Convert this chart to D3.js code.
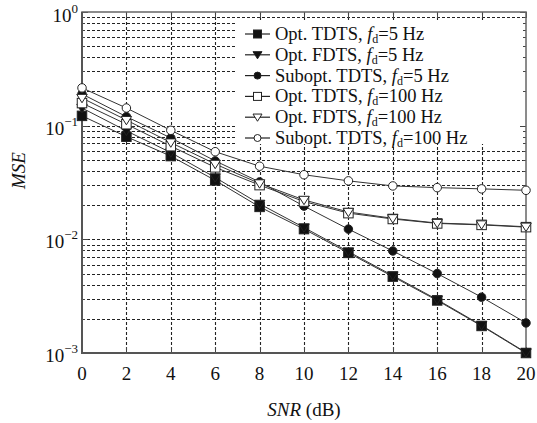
<!DOCTYPE html>
<html>
<head>
<script src="https://cdn.jsdelivr.net/npm/d3@7/dist/d3.min.js"></script>
<style>
  body { margin: 0; background: #fff; }
  text { font-family: "Liberation Serif", "DejaVu Serif", serif; fill: #111; }
</style>
</head>
<body>
<script>
// SNR values (dB)
var snr = [0, 2, 4, 6, 8, 10, 12, 14, 16, 18, 20];

// MSE
var optTdts5    = [0.122, 0.080, 0.054, 0.033, 0.0193, 0.0123, 0.0076, 0.0047, 0.0029, 0.00173, 0.00100];
var optFdts5    = [0.143, 0.090, 0.058, 0.035, 0.0205, 0.0127, 0.0078, 0.0048, 0.00295, 0.00175, 0.00101];
var subTdts5    = [0.190, 0.120, 0.078, 0.049, 0.032, 0.0196, 0.0123, 0.0079, 0.0050, 0.0031, 0.00184];
var optTdts100  = [0.158, 0.103, 0.066, 0.043, 0.030, 0.0215, 0.0170, 0.0151, 0.0138, 0.0134, 0.0128];
var optFdts100  = [0.175, 0.112, 0.071, 0.046, 0.031, 0.0222, 0.0174, 0.0153, 0.0139, 0.0135, 0.0129];
var subTdts100  = [0.215, 0.143, 0.091, 0.059, 0.044, 0.037, 0.0327, 0.0295, 0.0285, 0.0278, 0.0270];

var seriesNames = ["Opt. TDTS, ", "Opt. FDTS, ", "Subopt. TDTS, ", "Opt. TDTS, ", "Opt. FDTS, ", "Subopt. TDTS, "];
var seriesFreq = ["=5 Hz", "=5 Hz", "=5 Hz", "=100 Hz", "=100 Hz", "=100 Hz"];
var seriesVals = [optTdts5, optFdts5, subTdts5, optTdts100, optFdts100, subTdts100];
var seriesMark = ["square", "triangle", "circle", "square", "triangle", "circle"];
var seriesFill = [true, true, true, false, false, false];

var xTicks = [0, 2, 4, 6, 8, 10, 12, 14, 16, 18, 20];
var yDecades = [1, 0.1, 0.01, 0.001];
var yExp = ["0", "\u22121", "\u22122", "\u22123"];

var W = 537, H = 423;
var margin = {top: 12, right: 11, bottom: 70, left: 82};
var w = W - margin.left - margin.right;
var h = H - margin.top - margin.bottom;

var svg = d3.select("body").append("svg")
  .attr("width", W).attr("height", H);
var g = svg.append("g")
  .attr("transform", "translate(" + margin.left + "," + margin.top + ")");

var x = d3.scaleLinear().domain([0, 20]).range([0, w]);
var y = d3.scaleLog().domain([0.001, 1]).range([h, 0]);

// grid values: every minor log step
var gridY = [];
[0.001, 0.01, 0.1].forEach(function(d) {
  for (var k = 1; k <= 9; k++) gridY.push(d * k);
});
gridY.push(1);

var grid = g.append("g").attr("stroke", "#222").attr("stroke-width", 1.1)
  .attr("stroke-dasharray", "3,2");
grid.selectAll(".gy").data(gridY.slice(1, -1)).enter().append("line")
  .attr("x1", 0).attr("x2", w)
  .attr("y1", function(d) { return Math.round(y(d)) + 0.5; })
  .attr("y2", function(d) { return Math.round(y(d)) + 0.5; });
grid.selectAll(".gx").data(xTicks.slice(1, -1)).enter().append("line")
  .attr("y1", 0).attr("y2", h)
  .attr("x1", function(d) { return Math.round(x(d)) + 0.5; })
  .attr("x2", function(d) { return Math.round(x(d)) + 0.5; });

// legend background covers the grid
var lgX = 155, lgY = 9;
g.append("rect").attr("x", lgX).attr("y", lgY).attr("width", w - lgX - 1).attr("height", 123)
  .attr("fill", "#fff");

// inner ticks on all four sides
var ticks = g.append("g").attr("stroke", "#444").attr("stroke-width", 1);
xTicks.forEach(function(d) {
  var xx = Math.round(x(d)) + 0.5;
  ticks.append("line").attr("x1", xx).attr("x2", xx).attr("y1", h).attr("y2", h - 6);
  ticks.append("line").attr("x1", xx).attr("x2", xx).attr("y1", 0).attr("y2", 6);
});
gridY.forEach(function(d) {
  var yy = Math.round(y(d)) + 0.5;
  var len = yDecades.indexOf(d) >= 0 ? 6 : 3;
  ticks.append("line").attr("x1", 0).attr("x2", len).attr("y1", yy).attr("y2", yy);
  ticks.append("line").attr("x1", w).attr("x2", w - len).attr("y1", yy).attr("y2", yy);
});

// frame
g.append("rect").attr("x", 0).attr("y", 0).attr("width", w).attr("height", h)
  .attr("fill", "none").attr("stroke", "#666").attr("stroke-width", 1.5);
g.append("path").attr("d", "M0,0V" + h + "H" + w)
  .attr("fill", "none").attr("stroke", "#555").attr("stroke-width", 2);

// marker drawing
function marker(sel, type, filled, cx, cy, s) {
  var fill = filled ? "#111" : "#fff";
  if (type === "square") {
    sel.append("rect").attr("x", cx - s / 2).attr("y", cy - s / 2)
      .attr("width", s).attr("height", s)
      .attr("fill", fill).attr("stroke", "#222").attr("stroke-width", 1);
  } else if (type === "circle") {
    sel.append("circle").attr("cx", cx).attr("cy", cy).attr("r", s / 2 - 0.5)
      .attr("fill", fill).attr("stroke", "#222").attr("stroke-width", 1);
  } else {
    var r = s / 2 + 0.5;
    sel.append("path")
      .attr("d", "M" + (cx - r) + "," + (cy - r * 0.7) + "L" + (cx + r) + "," + (cy - r * 0.7) +
        "L" + cx + "," + (cy + r * 0.9) + "Z")
      .attr("fill", fill).attr("stroke", "#222").attr("stroke-width", 1);
  }
}

var line = d3.line()
  .x(function(d, i) { return x(snr[i]); })
  .y(function(d) { return y(d); });

var plot = g.append("g");
seriesVals.forEach(function(vals, k) {
  plot.append("path").datum(vals).attr("d", line)
    .attr("fill", "none").attr("stroke", "#333").attr("stroke-width", 1);
});
seriesVals.forEach(function(vals, k) {
  vals.forEach(function(v, i) {
    marker(plot, seriesMark[k], seriesFill[k], x(snr[i]), y(v), 9.5);
  });
});

// legend
var lg = g.append("g").attr("transform", "translate(" + lgX + "," + lgY + ")");
seriesNames.forEach(function(name, k) {
  var yy = 13 + k * 20.8;
  lg.append("line").attr("x1", 8).attr("x2", 33).attr("y1", yy).attr("y2", yy)
    .attr("stroke", "#222").attr("stroke-width", 1.2);
  marker(lg, seriesMark[k], seriesFill[k], 20.5, yy, 8);
  var t = lg.append("text").attr("x", 38).attr("y", yy + 6).attr("font-size", 18.5);
  t.append("tspan").text(name);
  t.append("tspan").attr("font-style", "italic").text("f");
  t.append("tspan").attr("font-size", 12).attr("dy", 3).text("d");
  t.append("tspan").attr("dy", -3).text(seriesFreq[k]);
});

// x tick labels
g.selectAll(".xl").data(xTicks).enter().append("text")
  .attr("x", function(d) { return x(d); })
  .attr("y", h + 27).attr("text-anchor", "middle").attr("font-size", 19)
  .text(function(d) { return d; });

// y tick labels
yDecades.forEach(function(d, i) {
  var t = g.append("text").attr("x", -4).attr("y", y(d) + (i === 0 ? 10 : 9)).attr("font-size", 19)
    .attr("text-anchor", "end");
  t.append("tspan").text("10");
  t.append("tspan").attr("font-size", 13).attr("dy", -9).text(yExp[i]);
});

// axis titles
g.append("text").attr("transform", "translate(-57," + (h / 2 - 12) + ") rotate(-90)")
  .attr("text-anchor", "middle").attr("font-size", 19).attr("font-style", "italic")
  .text("MSE");
var xt = g.append("text").attr("x", w / 2).attr("y", h + 63).attr("text-anchor", "middle")
  .attr("font-size", 19);
xt.append("tspan").attr("font-style", "italic").text("SNR");
xt.append("tspan").text(" (dB)");
</script>
</body>
</html>
